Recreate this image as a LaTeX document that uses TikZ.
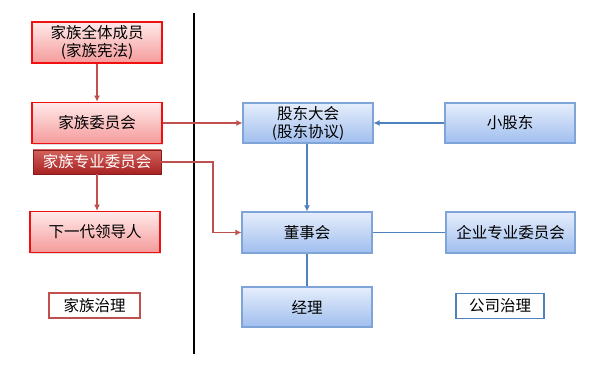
\documentclass[tikz,border=0pt]{standalone}
\usepackage{fontspec}
\setmainfont{Noto Sans CJK SC}
\usetikzlibrary{arrows.meta,shadows}
\definecolor{redline}{HTML}{C0504D}
\definecolor{blueline}{HTML}{4F81BD}
\definecolor{redborder}{HTML}{F01010}
\definecolor{bluebord}{HTML}{7FA4D8}
\definecolor{redtop}{HTML}{FFEAEA}
\definecolor{redbot}{HTML}{F59A9A}
\definecolor{bluetop}{HTML}{E6EEFB}
\definecolor{bluebot}{HTML}{A0BEEF}
\definecolor{darktop}{HTML}{D2625C}
\definecolor{darkbot}{HTML}{A82222}
\tikzset{
  redbox/.style={draw=redborder, line width=1.6pt, top color=redtop, bottom color=redbot,
    minimum width=130pt, minimum height=41pt, inner sep=0pt, align=center,
    drop shadow={shadow xshift=1.2pt,shadow yshift=-1.2pt,opacity=0.25}},
  darkbox/.style={draw=darkbot!80!black, line width=0.8pt, top color=darktop, bottom color=darkbot,
    text=white, minimum width=128pt, minimum height=24pt, inner sep=0pt,
    drop shadow={shadow xshift=1.2pt,shadow yshift=-1.2pt,opacity=0.25}},
  bluebox/.style={draw=bluebord, line width=1.1pt, top color=bluetop, bottom color=bluebot,
    minimum width=130pt, minimum height=40pt, inner sep=0pt, align=center,
    drop shadow={shadow xshift=1.2pt,shadow yshift=-1.2pt,opacity=0.25}},
  labred/.style={draw=redline, line width=1.2pt, fill=white, minimum width=91pt, minimum height=25pt, inner sep=0pt},
  labblue/.style={draw=blueline, line width=1.2pt, fill=white, minimum width=88pt, minimum height=25pt, inner sep=0pt},
  redarr/.style={draw=redline, line width=1.5pt, -{Latex[length=6pt,width=6pt]}},
  bluearr/.style={draw=blueline, line width=1.5pt, -{Latex[length=6pt,width=6pt]}},
  blueln/.style={draw=blueline, line width=1.5pt},
}
\begin{document}
\begin{tikzpicture}[x=1pt,y=-1pt,font=\fontsize{15.5pt}{18pt}\selectfont]
\useasboundingbox[fill=white] (0,0) rectangle (599,366);
% divider
\draw[line width=2.4pt] (194,13) coordinate (dtop) -- (194,354) coordinate (dbot);
% left side
\node[redbox] (fam) at (97,42.5) {家族全体成员\\(家族宪法)};
\node[redbox] (famc) at (97,123) {家族委员会};
\node[darkbox] (famsp) at (97,162) {家族专业委员会};
\node[redbox] (next) at (95,232) {下一代领导人};
\node[labred] (famgov) at (94.5,305.5) {家族治理};
% right side
\node[bluebox] (gd) at (308,123) {股东大会\\(股东协议)};
\node[bluebox] (small) at (510,123) {小股东};
\node[bluebox, minimum height=41pt] (board) at (307,232.5) {董事会};
\node[bluebox, minimum height=41pt, minimum width=129pt] (ecom) at (510.5,232.5) {企业专业委员会};
\node[bluebox] (mgr) at (307,307) {经理};
\node[labblue] (corpgov) at (500,306) {公司治理};
% connectors
\draw[redarr] (fam.south) -- (famc.north);
\draw[redarr] (famsp.south) -- (famsp.south |- next.north);
\draw[redarr] (famc.east) -- (gd.west);
\coordinate (bend) at (213,162);
\draw[redarr] (famsp.east) -- (bend) |- (board.west);
\draw[bluearr] (small.west) -- (gd.east);
\draw[bluearr] (gd.south -| board.north) -- (board.north);
\draw[blueln] (board.east) -- (ecom.west);
\draw[blueln] (board.south) -- (mgr.north);
\end{tikzpicture}
\end{document}
